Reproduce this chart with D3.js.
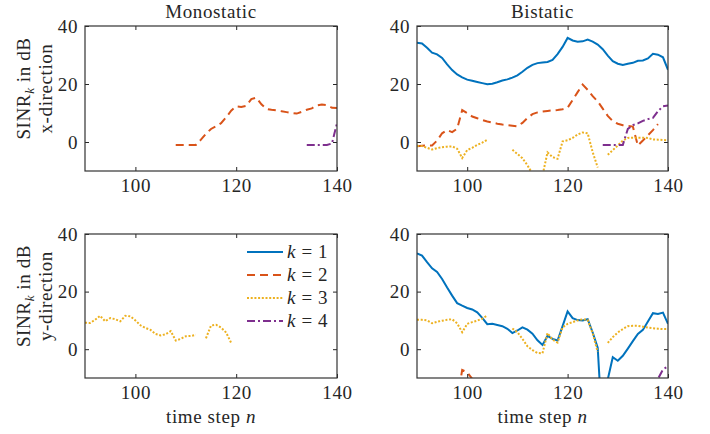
<!DOCTYPE html>
<html>
<head>
<meta charset="utf-8">
<script src="https://cdn.jsdelivr.net/npm/d3@7"></script>
<style>
body { margin: 0; background: #fff; }
text { font-family: "Liberation Serif", "Times New Roman", serif; fill: #262626; letter-spacing: 0.6px; }
</style>
</head>
<body>
<script>
const steps = d3.range(90, 141); // time step n
const xTicks = [100, 120, 140];
const yTicks = [0, 20, 40];
const userLabels = ["1", "2", "3", "4"];
const colors = ["#0072BD", "#D95319", "#EDB120", "#7E2F8E"];
const dashes = [null, "8,5", "2,1.7", "8,3,2,3"];

const _ = null;
// Monostatic, x-direction
const monoX_k2 = [_,_,_,_,_,_,_,_,_,_, _,_,_,_,_,_,_,_,-1.0,-1.0,
  -1.0,-1.0,-1.0,0.8,2.8,4.5,5.4,6.5,8.5,10.8, 12.3,12.1,12.5,14.8,15.3,13.0,11.4,11.1,10.9,10.6,
  10.3,10.0,9.8,10.4,11.1,11.6,12.6,12.9,12.7,11.8, 11.7];
const monoX_k4 = [_,_,_,_,_,_,_,_,_,_, _,_,_,_,_,_,_,_,_,_, _,_,_,_,_,_,_,_,_,_, _,_,_,_,_,_,_,_,_,_,
  _,_,_,_,-1,-1,-1,-1,-1,-0.5, 6.5];
// Bistatic, x-direction
const biX_k1 = [34.2,34.0,32.5,30.8,30.2,29.0,26.8,24.8,23.3,22.3,
  21.5,21.1,20.7,20.3,19.9,20.1,20.6,21.2,21.6,22.2, 23.0,24.2,25.6,26.6,27.2,27.4,27.6,28.3,30.3,32.8,
  35.9,35.0,34.6,34.7,35.3,34.6,33.6,32.0,29.8,27.9, 27.0,26.6,27.0,27.3,28.0,28.1,28.8,30.4,30.1,29.2, 24.9];
const biX_k2 = [-1.5,-1.3,-1.2,-1.2,0.5,3.0,4.1,3.4,4.6,11.0,
  10.0,8.8,8.2,7.6,7.1,6.7,6.3,6.0,5.8,5.6, 5.4,6.6,8.3,9.6,10.2,10.5,10.7,10.9,11.0,11.3,
  11.8,14.5,17.2,19.8,18.0,15.8,14.0,11.5,9.0,7.2, 6.3,5.8,5.6,5.3,-1.2,0.5,2.3,4.1,6.2,_, _];
const biX_k3 = [-1.3,-1.4,-2.0,-2.6,-2.1,-1.8,-1.6,-1.5,-2.3,-5.5,
  -2.8,-2.0,-1.0,-0.2,0.8,_,_,_,_,-2.7, -4.1,-5.6,-8.0,-11.0,-14.0,-11.5,-3.6,-5.2,-5.8,0.2,
  0.6,1.4,2.6,3.3,3.0,-3.5,-8.8,_,-4.4,-2.8, -1.2,0.5,1.4,1.5,1.5,1.5,1.4,0.9,0.8,0.7, 0.6];
const biX_k4 = [_,_,_,_,_,_,_,_,_,_, _,_,_,_,_,_,_,_,_,_, _,_,_,_,_,_,_,_,_,_, _,_,_,_,_,_,_,-1,-1,-1,
  -1,-1,4.5,5.8,6.4,7.3,7.9,8.3,10.6,12.3, 12.6];
// Monostatic, y-direction
const monoY_k3 = [9.2,9.1,10.2,11.6,9.7,10.8,10.4,9.7,11.6,11.4,
  10.0,8.3,7.4,6.7,5.3,4.8,5.2,6.3,3.0,3.6, 4.5,4.6,5.0,_,3.8,8.2,8.5,7.5,5.8,2.2,
  _,_,_,_,_,_,_,_,_,_, _,_,_,_,_,_,_,_,_,_, _];
// Bistatic, y-direction
const biY_k1 = [33.3,32.5,30.2,28.1,26.8,24.4,21.4,18.6,16.0,15.1,
  14.3,13.8,12.8,10.9,8.7,8.8,8.4,8.0,7.1,5.6, 6.5,7.6,6.8,5.4,3.1,1.5,4.6,3.6,3.0,8.0,
  13.1,10.8,10.1,10.0,10.4,5.8,0.5,-30,-10.5,-2.8, -4.0,-2.3,0.2,2.8,5.3,6.7,9.6,12.5,12.2,12.7, 8.8];
const biY_k2 = [_,_,_,_,_,_,_,_,-18,-7.2, -8.0,-10.3,-14,_,_,_,_,_,_,_,
  _,_,_,_,_,_,_,_,_,_, _,_,_,_,_,_,_,_,_,_, _,_,_,_,_,_,_,_,_,_, _];
const biY_k3 = [10.2,10.2,10.0,9.0,9.5,9.9,10.2,10.4,9.0,5.9,
  8.8,9.4,9.9,10.6,11.7,_,_,_,_,7.2, 5.9,3.6,1.0,-0.3,-1.3,-1.4,5.6,3.3,2.3,7.6,
  8.8,9.4,10.0,10.4,10.2,5.5,-1.0,_,2.2,4.2, 5.8,7.0,8.0,8.1,8.1,7.8,7.5,7.3,7.1,7.0, 7.0];
const biY_k4 = [_,_,_,_,_,_,_,_,_,_, _,_,_,_,_,_,_,_,_,_, _,_,_,_,_,_,_,_,_,_, _,_,_,_,_,_,_,_,_,_,
  _,_,_,_,_,_,_,-15,-10.3,-7.0, -6.0];

const width = 710, height = 434;
const fs = 19;
const cols = [{left: 85, right: 337}, {left: 417, right: 668}];
const rows = [{top: 26, bottom: 171}, {top: 234, bottom: 378}];

const panels = [
  {c: 0, r: 0, title: "Monostatic", series: [{k: 1, v: monoX_k2}, {k: 3, v: monoX_k4}]},
  {c: 1, r: 0, title: "Bistatic", series: [{k: 0, v: biX_k1}, {k: 1, v: biX_k2}, {k: 2, v: biX_k3}, {k: 3, v: biX_k4}]},
  {c: 0, r: 1, series: [{k: 2, v: monoY_k3}], legend: true},
  {c: 1, r: 1, series: [{k: 0, v: biY_k1}, {k: 1, v: biY_k2}, {k: 2, v: biY_k3}, {k: 3, v: biY_k4}]}
];

const svg = d3.select("body").append("svg")
  .attr("width", width).attr("height", height);

function drawPanel(p, i) {
  const c = cols[p.c], r = rows[p.r];
  const x = d3.scaleLinear().domain([90, 140]).range([c.left, c.right]);
  const y = d3.scaleLinear().domain([-10, 40]).range([r.bottom, r.top]);
  const g = svg.append("g");

  g.append("clipPath").attr("id", "clip" + i)
    .append("rect").attr("x", c.left).attr("y", r.top)
    .attr("width", c.right - c.left).attr("height", r.bottom - r.top);

  const line = d3.line()
    .defined(d => d[1] != null)
    .x(d => x(d[0])).y(d => y(d[1]));

  p.series.forEach(s => {
    g.append("path")
      .attr("clip-path", "url(#clip" + i + ")")
      .attr("d", line(steps.map((n, j) => [n, s.v[j]])))
      .attr("fill", "none")
      .attr("stroke", colors[s.k])
      .attr("stroke-width", 2)
      .attr("stroke-dasharray", dashes[s.k]);
  });

  // axes, ticks pointing inward like matlab
  const axB = g.append("g").attr("transform", "translate(0," + r.bottom + ")")
    .call(d3.axisBottom(x).tickValues(xTicks).tickSizeInner(-4).tickSizeOuter(0).tickPadding(8));
  const axT = g.append("g").attr("transform", "translate(0," + r.top + ")")
    .call(d3.axisTop(x).tickValues(xTicks).tickSizeInner(-4).tickSizeOuter(0).tickFormat(""));
  const axL = g.append("g").attr("transform", "translate(" + c.left + ",0)")
    .call(d3.axisLeft(y).tickValues(yTicks).tickSizeInner(-4).tickSizeOuter(0).tickPadding(7));
  const axR = g.append("g").attr("transform", "translate(" + c.right + ",0)")
    .call(d3.axisRight(y).tickValues(yTicks).tickSizeInner(-4).tickSizeOuter(0).tickFormat(""));
  [axB, axT, axL, axR].forEach(a => {
    a.select(".domain").remove();
    a.selectAll("line").attr("stroke", "#262626");
    a.selectAll("text").attr("font-size", fs).attr("fill", "#262626")
      .style("font-family", '"Liberation Serif", serif');
  });

  g.append("rect")
    .attr("x", c.left).attr("y", r.top)
    .attr("width", c.right - c.left).attr("height", r.bottom - r.top)
    .attr("fill", "none").attr("stroke", "#333").attr("stroke-width", 1.2);

  if (p.title) {
    g.append("text")
      .attr("x", (c.left + c.right) / 2).attr("y", 18)
      .attr("text-anchor", "middle").attr("font-size", fs)
      .text(p.title);
  }
  if (p.r === 1) {
    const t = g.append("text")
      .attr("x", (c.left + c.right) / 2).attr("y", 423)
      .attr("text-anchor", "middle").attr("font-size", fs);
    t.append("tspan").text("time step ");
    t.append("tspan").attr("font-style", "italic").text("n");
  }
  if (p.c === 0) {
    const cy = (r.top + r.bottom) / 2 - 10;
    const lab = g.append("g").attr("transform", "translate(30," + cy + ") rotate(-90)");
    const t1 = lab.append("text").attr("text-anchor", "middle").attr("font-size", fs);
    t1.append("tspan").text("SINR");
    t1.append("tspan").attr("font-style", "italic").attr("font-size", 13).attr("dy", 4).text("k");
    t1.append("tspan").attr("dy", -4).text(" in dB");
    lab.append("text").attr("y", 22).attr("text-anchor", "middle").attr("font-size", fs)
      .text(p.r === 0 ? "x-direction" : "y-direction");
  }
  if (p.legend) {
    const lg = g.append("g");
    userLabels.forEach((lbl, k) => {
      const ly = 252 + k * 23;
      lg.append("line")
        .attr("x1", 247).attr("x2", 283).attr("y1", ly).attr("y2", ly)
        .attr("stroke", colors[k]).attr("stroke-width", 2)
        .attr("stroke-dasharray", dashes[k]);
      const t = lg.append("text").attr("x", 287).attr("y", ly + 6).attr("font-size", fs);
      t.append("tspan").attr("font-style", "italic").text("k");
      t.append("tspan").text(" = " + lbl);
    });
  }
}

panels.forEach(drawPanel);
</script>
</body>
</html>
